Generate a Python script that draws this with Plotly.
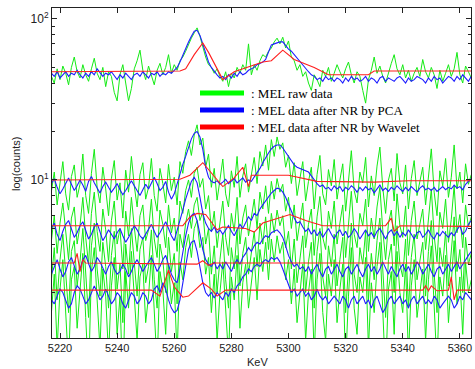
import numpy as np
import plotly.graph_objects as go

# Energy axis of the raw / PCA series (1 keV steps)
kev = list(range(5217, 5365))

# ---------------- raw data (green) ----------------
raw_1 = [44, 40, 49, 42, 51, 46, 39, 50, 58, 47,
         43, 52, 45, 41, 49, 57, 46, 42, 50, 38,
         47, 44, 35, 31, 45, 52, 40, 31, 37, 49,
         55, 64, 48, 42, 51, 44, 39, 48, 53, 45,
         50, 60, 46, 52, 48, 55, 58, 63, 70, 76,
         82, 88, 78, 66, 58, 52, 50, 46, 49, 44,
         41, 47, 38, 46, 43, 50, 46, 52, 48, 70,
         45, 52, 48, 55, 60, 58, 63, 66, 72, 76,
         70, 77, 66, 73, 58, 55, 48, 52, 44, 47,
         40, 36, 45, 42, 38, 48, 44, 50, 41, 46,
         52, 47, 43, 49, 54, 45, 40, 47, 44, 36,
         30, 42, 48, 58, 46, 51, 44, 40, 47, 53,
         60, 49, 45, 52, 43, 48, 41, 46, 50, 44,
         56, 47, 43, 50, 45, 37, 48, 41, 46, 52,
         44, 49, 62, 45, 40, 51, 47, 43]
raw_2 = [8.5, 11.2, 7.0, 9.8, 13.0, 8.2, 6.5, 10.5, 12.4, 7.8,
         9.4, 14.5, 8.0, 6.2, 11.0, 15.5, 9.0, 7.2, 12.0, 8.8,
         6.0, 10.2, 13.2, 7.5, 9.6, 5.8, 11.5, 8.4, 14.0, 9.2,
         6.8, 10.8, 12.8, 7.6, 9.0, 13.6, 8.0, 6.4, 11.8, 9.5,
         7.2, 12.5, 8.6, 10.4, 7.0, 13.0, 11.0, 15.0, 17.5, 14.2,
         19.0, 22.0, 16.5, 18.2, 12.0, 14.5, 9.0, 11.8, 7.5, 10.0,
         13.5, 8.2, 6.8, 11.4, 9.0, 14.0, 7.8, 10.6, 12.6, 8.4,
         11.0, 13.8, 9.5, 15.0, 12.2, 16.5, 11.5, 17.8, 14.0, 18.5,
         15.5, 17.0, 12.0, 14.2, 9.5, 12.8, 8.0, 10.5, 13.0, 7.4,
         9.8, 12.0, 6.6, 10.8, 14.2, 8.2, 7.0, 11.6, 9.2, 13.4,
         7.6, 10.0, 12.6, 6.4, 9.4, 15.2, 8.6, 7.2, 11.2, 9.6,
         13.8, 6.8, 10.6, 8.0, 12.2, 16.0, 9.0, 6.2, 10.0, 11.8,
         7.4, 14.6, 9.6, 8.2, 12.4, 6.6, 10.2, 13.2, 8.0, 9.8,
         12.0, 7.0, 10.8, 15.6, 8.4, 6.0, 11.4, 9.2, 13.6, 7.8,
         10.4, 16.5, 8.8, 11.2, 7.2, 12.6, 9.4, 10.8]
raw_3 = [4.2, 6.0, 3.5, 5.4, 7.2, 4.6, 3.2, 5.8, 6.8, 4.0,
         5.2, 7.8, 4.4, 3.0, 6.2, 8.4, 4.8, 3.6, 6.6, 4.9,
         3.1, 5.6, 7.4, 4.0, 5.0, 2.8, 6.4, 4.5, 7.8, 5.1,
         3.6, 6.0, 7.0, 4.2, 4.9, 7.6, 4.3, 3.3, 6.5, 5.3,
         3.8, 7.0, 4.7, 5.8, 3.6, 7.4, 6.2, 8.6, 10.0, 7.8,
         11.0, 12.0, 9.0, 10.2, 6.6, 8.0, 4.8, 6.4, 3.8, 5.4,
         7.4, 4.4, 3.4, 6.2, 4.8, 7.8, 4.0, 5.8, 7.0, 4.5,
         6.0, 7.6, 5.0, 8.4, 6.6, 9.2, 6.2, 9.8, 7.6, 10.2,
         8.4, 9.4, 6.4, 7.8, 5.0, 7.0, 4.2, 5.6, 7.2, 3.8,
         5.3, 6.6, 3.4, 5.9, 7.9, 4.4, 3.7, 6.4, 5.0, 7.4,
         4.0, 5.4, 7.0, 3.3, 5.1, 8.5, 4.6, 3.8, 6.2, 5.2,
         7.6, 3.6, 5.8, 4.3, 6.8, 9.0, 4.9, 3.2, 5.4, 6.5,
         3.9, 8.2, 5.2, 4.4, 6.9, 3.4, 5.6, 7.4, 4.3, 5.3,
         6.6, 3.7, 5.9, 8.8, 4.5, 3.1, 6.3, 5.0, 7.6, 4.1,
         5.7, 9.2, 4.7, 6.1, 3.8, 7.0, 5.1, 5.9]
raw_4 = [2.4, 3.8, 1.8, 3.2, 4.6, 2.6, 1.5, 3.6, 4.2, 2.2,
         3.1, 5.0, 2.5, 1.4, 3.9, 5.4, 2.8, 1.9, 4.1, 2.9,
         1.6, 3.4, 4.8, 2.1, 3.0, 1.3, 4.0, 2.6, 5.0, 3.0,
         1.9, 3.7, 4.4, 2.3, 2.9, 4.9, 2.4, 1.6, 4.0, 3.2,
         2.0, 4.4, 2.7, 3.5, 1.7, 4.6, 3.8, 5.4, 6.6, 5.0,
         7.0, 7.8, 5.6, 6.4, 4.0, 5.0, 2.6, 3.9, 2.0, 3.2,
         4.6, 2.4, 1.6, 3.8, 2.8, 4.9, 2.2, 3.5, 4.4, 2.6,
         3.6, 4.8, 2.9, 5.4, 4.0, 5.9, 3.7, 6.2, 4.7, 6.5,
         5.2, 6.0, 3.8, 4.8, 2.8, 4.3, 2.3, 3.3, 4.5, 2.0,
         3.1, 4.1, 1.6, 3.6, 5.0, 2.5, 1.9, 3.9, 2.9, 4.6,
         2.2, 3.2, 4.4, 1.5, 3.0, 5.4, 2.6, 2.0, 3.8, 3.0,
         4.8, 1.8, 3.5, 2.4, 4.2, 5.8, 2.8, 1.4, 3.2, 4.0,
         2.0, 5.2, 3.0, 2.5, 4.3, 1.6, 3.3, 4.6, 2.4, 3.1,
         4.1, 1.9, 3.6, 5.6, 2.6, 1.5, 3.8, 2.9, 4.8, 2.2,
         3.4, 5.9, 2.7, 3.7, 2.0, 4.4, 3.0, 3.5]
raw_5 = [1.5, 2.6, 0.9, 2.1, 3.2, 1.6, 0.7, 2.4, 2.9, 1.2,
         2.0, 3.5, 1.4, 0.6, 2.7, 3.8, 1.8, 0.9, 2.8, 1.9,
         0.8, 2.2, 3.3, 1.1, 1.9, 0.5, 2.7, 1.6, 3.6, 2.0,
         1.0, 2.5, 3.0, 1.3, 1.9, 3.4, 1.4, 0.7, 2.7, 2.1,
         1.1, 3.0, 1.7, 2.3, 0.8, 3.1, 2.4, 3.8, 4.6, 3.3,
         5.0, 5.6, 3.8, 4.4, 2.6, 3.3, 1.5, 2.6, 1.0, 2.0,
         3.1, 1.4, 0.8, 2.5, 1.8, 3.4, 1.2, 2.3, 3.0, 1.6,
         2.4, 3.3, 1.8, 3.7, 2.7, 4.1, 2.4, 4.3, 3.1, 4.5,
         3.5, 4.1, 2.4, 3.2, 1.7, 2.8, 1.3, 2.1, 3.0, 1.0,
         2.0, 2.8, 0.8, 2.4, 3.5, 1.5, 1.0, 2.6, 1.9, 3.2,
         1.3, 2.1, 3.0, 0.7, 1.9, 3.8, 1.6, 1.1, 2.5, 2.0,
         3.3, 0.9, 2.3, 1.5, 2.9, 4.1, 1.8, 0.6, 2.1, 2.7,
         1.1, 3.6, 2.0, 1.5, 3.0, 0.8, 2.2, 3.2, 1.4, 2.0,
         2.8, 1.0, 2.4, 3.9, 1.6, 0.7, 2.5, 1.9, 3.4, 1.3,
         2.3, 4.2, 1.7, 2.5, 1.1, 3.1, 2.0, 2.4]

# ---------------- after NR by PCA (blue) ----------------
pca_1 = [46, 44, 47, 43, 45, 47, 44, 46, 45, 48,
         45, 43, 46, 44, 47, 45, 49, 46, 44, 46,
         45, 47, 44, 42, 45, 43, 46, 44, 42, 45,
         46, 44, 47, 45, 43, 46, 45, 47, 44, 46,
         45, 47, 46, 48, 50, 54, 60, 66, 72, 78,
         84, 85, 79, 70, 61, 54, 50, 47, 45, 43,
         44, 42, 45, 43, 46, 44, 47, 45, 46, 48,
         49, 50, 52, 53, 54, 56, 62, 69, 70, 71,
         72, 72, 68, 65, 63, 60, 57, 54, 51, 49,
         47, 45, 44, 42, 43, 41, 44, 42, 43, 41,
         43, 42, 40, 43, 41, 44, 42, 43, 41, 42,
         44, 41, 43, 42, 40, 43, 44, 41, 43, 42,
         41, 43, 44, 42, 40, 43, 41, 42, 44, 43,
         42, 40, 43, 41, 44, 42, 43, 40, 42, 44,
         43, 41, 44, 42, 45, 43, 41, 44]
pca_2 = [9.5, 10.2, 9.0, 8.2, 8.8, 9.6, 10.3, 9.4, 8.6, 9.2,
         10.0, 9.3, 8.5, 9.8, 10.5, 9.6, 8.9, 8.3, 9.1, 9.7,
         9.0, 8.4, 8.9, 9.5, 8.7, 8.1, 8.6, 9.3, 9.9, 9.2,
         8.5, 8.0, 8.7, 9.4, 8.8, 9.6, 10.4, 9.5, 8.6, 9.0,
         9.8, 8.4, 7.6, 8.2, 9.5, 11.0, 12.5, 14.0, 16.0, 18.0,
         19.5, 20.0, 18.5, 15.5, 12.0, 10.4, 9.8, 9.6, 9.9, 9.4,
         9.7, 10.1, 9.5, 9.8, 10.2, 9.6, 9.9, 10.3, 9.7, 10.0,
         9.8, 10.4, 11.0, 11.8, 12.8, 13.8, 14.7, 15.6, 16.2, 16.5,
         16.5, 15.8, 14.8, 13.9, 13.0, 12.4, 12.0, 11.8, 11.6, 11.5,
         11.2, 10.6, 10.0, 9.5, 9.1, 9.3, 8.8, 9.0, 8.6, 9.2,
         8.8, 9.1, 8.5, 9.0, 8.7, 9.2, 8.9, 8.4, 9.0, 8.6,
         9.1, 8.7, 8.9, 8.3, 8.8, 9.3, 8.6, 8.9, 8.5, 9.0,
         8.7, 9.2, 8.8, 8.5, 9.0, 8.6, 9.1, 8.8, 8.4, 8.9,
         9.2, 8.7, 8.9, 8.6, 9.0, 8.5, 8.8, 9.1, 8.7, 9.0,
         8.8, 9.3, 8.9, 9.1, 8.7, 9.4, 9.8, 10.2]
pca_3 = [5.0, 5.4, 4.6, 4.2, 4.8, 5.3, 5.6, 4.9, 4.4, 4.7,
         5.2, 5.5, 4.9, 4.3, 4.6, 5.1, 5.4, 4.8, 4.2, 4.5,
         4.9, 4.6, 4.3, 4.7, 5.0, 4.5, 4.1, 4.4, 4.8, 5.2,
         4.9, 4.5, 4.3, 4.6, 5.0, 5.3, 4.8, 4.4, 4.7, 5.1,
         5.5, 5.0, 4.5, 4.2, 4.8, 5.6, 6.5, 7.6, 8.8, 9.8,
         10.4, 9.6, 7.8, 6.2, 5.4, 5.0, 4.8, 5.1, 4.7, 4.9,
         4.6, 4.9, 5.2, 4.8, 4.5, 4.9, 5.3, 5.0, 5.4, 5.9,
         5.6, 6.2, 6.0, 6.6, 7.0, 7.4, 7.9, 8.3, 8.6, 8.9,
         8.8, 8.4, 7.8, 7.0, 6.3, 5.8, 5.4, 5.5, 5.1, 4.8,
         5.0, 4.6, 4.9, 4.5, 4.8, 4.4, 4.7, 5.0, 4.6, 4.3,
         4.7, 4.9, 4.5, 4.8, 4.4, 4.6, 5.0, 4.7, 4.3, 4.6,
         4.9, 4.5, 4.7, 4.4, 4.8, 5.0, 4.6, 4.3, 4.7, 4.9,
         4.5, 4.8, 4.4, 4.7, 4.5, 4.9, 4.6, 4.3, 4.7, 4.8,
         4.4, 4.6, 4.9, 4.5, 4.3, 4.7, 4.5, 4.8, 4.6, 4.4,
         4.7, 4.5, 4.9, 5.2, 4.6, 4.8, 5.3, 5.6]
pca_4 = [2.6, 2.9, 3.2, 2.8, 2.5, 2.7, 3.1, 3.3, 2.9, 2.6,
         2.8, 3.2, 3.4, 3.0, 2.7, 2.9, 3.3, 3.1, 2.8, 2.6,
         2.9, 3.1, 2.8, 2.6, 2.7, 3.0, 2.8, 2.5, 2.7, 3.0,
         3.2, 2.9, 2.7, 2.9, 3.1, 3.3, 3.0, 2.7, 2.9, 3.2,
         3.4, 3.0, 2.6, 2.4, 2.3, 2.8, 3.6, 4.5, 5.4, 6.0,
         6.2, 5.6, 4.6, 3.7, 3.2, 3.0, 2.9, 3.1, 2.8, 3.0,
         2.8, 3.1, 2.9, 2.7, 3.0, 3.2, 3.0, 3.3, 3.5, 3.8,
         3.6, 3.9, 4.1, 4.0, 4.3, 4.5, 4.4, 4.7, 4.8, 4.9,
         4.7, 4.4, 3.9, 3.4, 3.1, 2.9, 3.0, 2.8, 2.9, 2.7,
         2.9, 2.6, 2.8, 3.0, 2.7, 2.5, 2.8, 2.9, 2.6, 2.8,
         3.0, 2.7, 2.5, 2.8, 2.9, 2.6, 2.8, 3.0, 2.7, 2.5,
         2.8, 3.0, 2.7, 2.9, 2.6, 2.8, 3.1, 2.8, 2.6, 2.9,
         2.7, 2.5, 2.8, 3.0, 2.7, 2.9, 2.6, 2.8, 3.1, 2.9,
         2.6, 2.8, 3.0, 2.7, 2.5, 2.8, 2.9, 2.6, 2.8, 3.0,
         2.7, 2.9, 3.1, 2.8, 3.0, 3.2, 3.4, 3.6]
pca_5 = [1.8, 1.7, 1.9, 2.1, 2.0, 1.8, 1.6, 1.7, 2.0, 2.2,
         2.1, 1.9, 1.7, 1.8, 2.0, 2.2, 2.0, 1.8, 1.9, 2.1,
         1.9, 1.7, 1.8, 2.0, 1.9, 1.7, 1.6, 1.8, 2.0, 1.9,
         1.7, 1.8, 2.0, 1.9, 1.7, 1.8, 2.1, 2.2, 2.0, 2.3,
         2.1, 1.8, 1.6, 1.5, 1.55, 1.8, 2.3, 3.0, 3.7, 4.1,
         4.2, 3.6, 2.9, 2.3, 2.0, 1.9, 2.0, 1.85, 2.0, 1.9,
         1.8, 2.0, 1.9, 2.1, 2.0, 2.2, 2.3, 2.5, 2.6, 2.8,
         2.7, 2.9, 3.0, 2.9, 3.1, 3.2, 3.1, 3.3, 3.2, 3.3,
         3.1, 2.8, 2.5, 2.2, 2.0, 2.1, 1.9, 2.0, 2.1, 1.9,
         2.0, 1.8, 1.9, 2.1, 1.9, 1.8, 1.9, 1.7, 1.8, 1.9,
         1.8, 1.7, 1.9, 1.8, 1.6, 1.8, 1.9, 1.7, 1.8, 1.9,
         1.7, 1.8, 1.6, 1.8, 1.9, 1.7, 1.5, 1.6, 1.8, 1.9,
         1.7, 1.8, 1.9, 1.7, 1.8, 1.6, 1.8, 1.9, 1.7, 1.8,
         1.9, 1.7, 1.8, 1.7, 1.9, 1.8, 1.6, 1.7, 1.8, 1.9,
         1.8, 1.6, 1.7, 1.9, 1.8, 2.0, 1.9, 1.8]

# ---------------- after NR by Wavelet (red), given at its breakpoints ----------------
wav_1_kev = [5217, 5262, 5264, 5267, 5270, 5272, 5277, 5281, 5291, 5294, 5298, 5302, 5309, 5312, 5314, 5328, 5330, 5364]
wav_1 = [47, 47.5, 49, 60, 71, 62, 42, 47, 54, 55, 64, 56, 50, 47, 45, 45, 47.5, 47.5]
wav_2_kev = [5217, 5258, 5262, 5265.5, 5270, 5277, 5281, 5284, 5286, 5287, 5300, 5310, 5330, 5342, 5364]
wav_2 = [10, 10, 10.1, 10.7, 12.8, 9.1, 10.3, 12.0, 9.1, 10.7, 10.7, 9.8, 9.7, 9.9, 9.9]
wav_3_kev = [5217, 5263, 5265.5, 5268, 5271, 5275, 5277, 5285, 5288, 5291, 5300.5, 5306, 5312, 5334, 5336, 5337, 5339, 5364]
wav_3 = [5.2, 5.2, 5.9, 6.2, 6.1, 4.9, 5.1, 5.0, 4.75, 5.4, 6.1, 5.6, 5.2, 5.2, 5.8, 4.8, 5.2, 5.15]
wav_4_kev = [5217, 5225, 5226, 5227, 5228, 5229, 5268, 5270, 5272, 5274, 5364]
wav_4 = [3.05, 3.05, 3.5, 2.7, 3.2, 3.05, 3.0, 3.15, 2.95, 3.05, 3.05]
wav_5_kev = [5217, 5252, 5255, 5258, 5260, 5263, 5265, 5270, 5273, 5275, 5278, 5347, 5348, 5349, 5350, 5352, 5356, 5357, 5358, 5359, 5364]
wav_5 = [2.07, 2.07, 1.9, 2.75, 2.17, 1.87, 1.9, 2.3, 2.1, 1.9, 2.07, 2.07, 2.2, 2.05, 2.2, 2.05, 2.07, 2.5, 1.8, 2.07, 2.07]

x_ticks = [5220, 5240, 5260, 5280, 5300, 5320, 5340, 5360]
y_ticks = [10, 100]
y_tick_labels = ["10<sup>1</sup>", "10<sup>2</sup>"]
y_minor = [2, 3, 4, 5, 6, 7, 8, 9, 20, 30, 40, 50, 60, 70, 80, 90]
legend_labels = [": MEL raw data", ": MEL data after NR by PCA", ": MEL data after NR by Wavelet"]

GREEN = "rgb(20,235,20)"
BLUE = "rgb(30,30,255)"
RED = "rgb(255,30,30)"
LEG_COLORS = ["rgb(0,255,0)", "rgb(0,0,255)", "rgb(255,0,0)"]

fig = go.Figure()
for ys in [raw_1, raw_2, raw_3, raw_4, raw_5]:
    fig.add_trace(go.Scatter(x=kev, y=ys, mode="lines", line=dict(color=GREEN, width=1), showlegend=False))
for ys in [pca_1, pca_2, pca_3, pca_4, pca_5]:
    fig.add_trace(go.Scatter(x=kev, y=ys, mode="lines", line=dict(color=BLUE, width=1.1), showlegend=False))
for xs, ys in [(wav_1_kev, wav_1), (wav_2_kev, wav_2), (wav_3_kev, wav_3), (wav_4_kev, wav_4), (wav_5_kev, wav_5)]:
    fig.add_trace(go.Scatter(x=xs, y=ys, mode="lines", line=dict(color=RED, width=1.1), showlegend=False))

# Figure fills the whole 475x369 window (body margin removed in the page script)
FW, FH = 475, 369
# plot area in pixels: x 52..471, y 8..338
SL, SR, ST, SB = 52, 471, 8, 338
W, H = SR - SL, SB - ST
def px(x):
    return (x - SL) / W
def py(y):
    return (SB - y) / H

# manual legend (thick samples + serif text)
for i, (col, lab) in enumerate(zip(LEG_COLORS, legend_labels)):
    yy = py(93 + 17 * i)
    fig.add_shape(type="line", xref="paper", yref="paper", x0=px(200), x1=px(244), y0=yy, y1=yy,
                  line=dict(color=col, width=5))
    fig.add_annotation(text=lab, xref="paper", yref="paper", x=px(249), y=yy, xanchor="left", yanchor="middle",
                       showarrow=False, font=dict(family="Liberation Serif, Times New Roman, serif", size=13, color="black"))

fig.add_annotation(text="KeV", xref="paper", yref="paper", x=px(257), y=py(362), xanchor="center", yanchor="middle",
                   showarrow=False, font=dict(family="Liberation Sans, Arial, sans-serif", size=11, color="#222"))
fig.add_annotation(text="log(counts)", xref="paper", yref="paper", x=px(16), y=py(164), xanchor="center", yanchor="middle",
                   textangle=-90, showarrow=False, font=dict(family="Liberation Sans, Arial, sans-serif", size=11, color="#222"))

fig.update_layout(
    width=FW, height=FH,
    margin=dict(l=SL, r=FW - SR, t=ST, b=FH - SB, pad=0),
    paper_bgcolor="white", plot_bgcolor="white",
    font=dict(family="Liberation Sans, Arial, sans-serif", size=11, color="#222"),
    showlegend=False,
)
fig.update_xaxes(range=[5217.2, 5363.9], tickvals=x_ticks, ticks="inside", ticklen=5, tickcolor="#222",
                 showgrid=False, zeroline=False, showline=True, linecolor="#222", linewidth=1, mirror="ticks",
                 tickfont=dict(size=11), ticklabeloverflow="allow")
fig.update_yaxes(type="log", range=[0.0186, 2.068], tickvals=y_ticks, ticktext=y_tick_labels,
                 ticks="inside", ticklen=5, tickcolor="#222",
                 minor=dict(tickvals=y_minor, ticks="inside", ticklen=3, tickcolor="#222", showgrid=False),
                 showgrid=False, zeroline=False, showline=True, linecolor="#222", linewidth=1, mirror="ticks",
                 tickfont=dict(size=12))

fig.write_html("out.html", config={"displayModeBar": False},
               post_script="document.body.style.margin='0';document.body.style.overflow='hidden';")
